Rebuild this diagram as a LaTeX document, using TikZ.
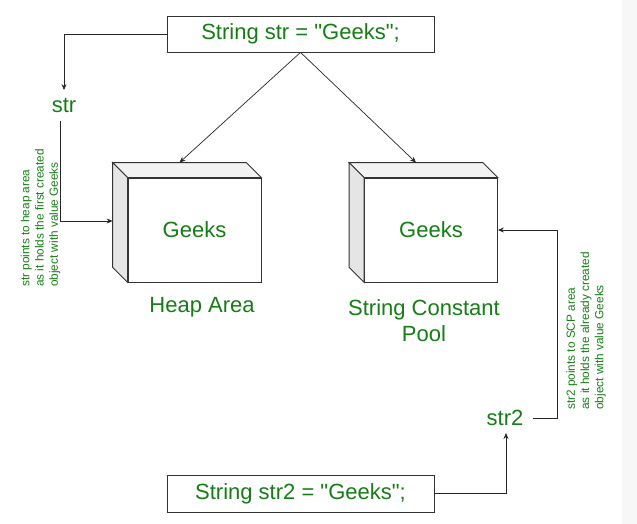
\documentclass[tikz,border=0pt]{standalone}
\usepackage{fontspec}
\setmainfont{Liberation Sans}[Ligatures=TeXOff]
\usetikzlibrary{arrows.meta,calc}
\definecolor{gg}{RGB}{22,125,22}
\begin{document}
\begin{tikzpicture}[x=1pt,y=-1pt,
  codebox/.style={draw=black!80, line width=0.8pt, minimum width=267pt, minimum height=36pt, inner sep=0pt, text=gg, font=\fontsize{22}{26}\selectfont},
  bigtext/.style={text=gg, font=\fontsize{22}{26}\selectfont},
  note/.style={text=gg, font=\fontsize{11.8}{14.2}\selectfont, align=left, rotate=90, inner sep=0pt},
  front/.style={draw=black!80, fill=white, line width=0.8pt, minimum width=133pt, minimum height=104pt, inner sep=0pt, text=gg, font=\fontsize{22}{26}\selectfont},
  conn/.style={draw=black!85, line width=0.7pt, -{Stealth[length=6pt,width=5pt]}},
  sideface/.style={fill=black!10, draw=black!80, line width=0.8pt},
  topface/.style={fill=black!5, draw=black!80, line width=0.8pt}]

\useasboundingbox (0,0) rectangle (637,524);
\fill[black!3] (622,0) rectangle (637,524);

% code boxes
\node[codebox] (topbox) at (300.5,34) {\raisebox{-1pt}{String str = "Geeks";}};
\node[codebox, minimum height=37pt] (botbox) at (300.5,493.5) {\raisebox{-1pt}{String str2 = "Geeks";}};

% variables
\node[bigtext, inner xsep=0pt, inner ysep=8pt] (str) at (64,105.5) {str};
\node[bigtext, inner xsep=9pt, inner ysep=7pt] (str2) at (505,418) {str2};
\coordinate (c2) at (557,418);

% memory areas (front faces)
\node[front] (heap) at (194.5,230) {\raisebox{-2pt}{Geeks}};
\node[front] (scp) at (431,230) {\raisebox{-2pt}{Geeks}};
\foreach \n in {heap,scp}{
  \draw[topface] ($(\n.north west)+(-15,-15)$) -- ($(\n.north east)+(-15,-15)$) -- (\n.north east) -- (\n.north west) -- cycle;
  \draw[sideface] ($(\n.north west)+(-15,-15)$) -- (\n.north west) -- (\n.south west) -- ($(\n.south west)+(-15,-15)$) -- cycle;
}

% labels
\node[bigtext] (heaplbl) at (202,307) {Heap Area};
\node[bigtext, align=center] (scplbl) at (424,321) {String Constant\\Pool};

% notes
\node[note] (note1) at (40.5,218) {str points to heap area\\as it holds the first created\\object with value Geeks};
\node[note] (note2) at (586,331) {str2 points to SCP area\\as it holds the already created\\object with value Geeks};

% connectors
\draw[conn] (topbox.south) -- ([shift={(-15,-15)}]heap.north);
\draw[conn] (topbox.south) -- ([shift={(-15,-15)}]scp.north);
\draw[conn] (topbox.west) -| (str.north);
\draw[conn] ([xshift=-4pt]str.south) |- ([shift={(-15,-9)}]heap.west);
\draw[conn] (botbox.east) -| ([xshift=1pt]str2.south);
\draw[conn] (str2.east) -- (c2) |- (scp.east);
\end{tikzpicture}
\end{document}
